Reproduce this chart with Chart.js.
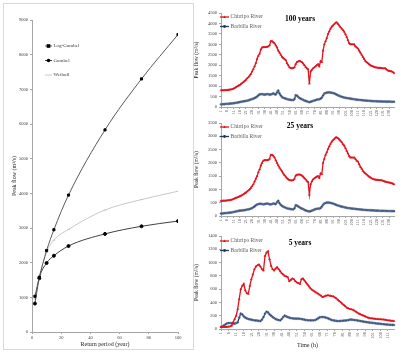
<!DOCTYPE html>
<html>
<head>
<meta charset="utf-8">
<script src="https://cdn.jsdelivr.net/npm/chart.js@4.4.0/dist/chart.umd.min.js"></script>
<style>
body { margin: 0; background: #fff; width: 401px; height: 352px; position: relative; overflow: hidden; }
.box { position: absolute; }
#frame { position: absolute; left: 3px; top: 3px; width: 189px; height: 345px; border: 1px solid #d9d9d9; }
</style>
</head>
<body>
<div id="frame"></div>
<div class="box" style="left:0;top:0"><canvas id="freq" width="196" height="352"></canvas></div>
<div class="box" style="left:190px;top:0"><canvas id="p100" width="211" height="118"></canvas></div>
<div class="box" style="left:190px;top:118px"><canvas id="p25" width="211" height="112"></canvas></div>
<div class="box" style="left:190px;top:230px"><canvas id="p5" width="211" height="122"></canvas></div>
<script>
// Courbes de fréquence (gauche)
const returnPeriod = [2, 5, 10, 15, 25, 50, 75, 100];
const logGumbel = [1030, 1580, 2350, 2950, 3950, 5830, 7300, 8580];
const gumbel = [820, 1550, 1990, 2200, 2480, 2830, 3050, 3200];
const weibull = [950, 1600, 2300, 2650, 2960, 3520, 3820, 4060];

// Hydrogrammes (droite), une valeur par heure
const chirripo100 = [800,800,800,805,810,815,820,830,840,850,
  880,910,950,985,1020,1050,1100,1150,1200,1250,
  1300,1370,1430,1500,1580,1700,1820,1950,2100,2300,
  2450,2550,2750,2850,2860,2870,2870,2880,2900,2950,
  3150,3150,3100,3050,2950,2850,2700,2600,2500,2400,
  2350,2300,2250,2100,2000,1900,1870,1850,1870,1900,
  2050,2150,2180,2200,2180,2150,2080,2000,1920,1850,
  1800,1120,1700,1780,1850,1900,1950,2000,2050,1950,
  2200,2150,2700,3000,3150,3300,3500,3620,3750,3850,
  3900,3970,4030,4050,3980,3900,3820,3750,3680,3600,
  3480,3350,3200,3050,3000,3000,3000,3000,2900,2850,
  2800,2700,2600,2500,2400,2300,2200,2150,2100,2050,
  2000,1970,1950,1920,1900,1890,1880,1875,1870,1860,
  1850,1850,1850,1800,1750,1730,1720,1700,1680,1620];
const barbilla100 = [130,130,135,140,145,150,155,160,165,170,
  180,190,200,210,220,235,250,260,270,280,
  290,300,320,340,360,380,400,430,460,500,
  560,600,610,620,600,590,600,620,610,590,
  600,620,650,610,600,700,780,650,550,480,
  440,420,400,380,360,350,340,330,330,380,
  560,540,480,430,400,370,340,310,290,270,
  250,230,250,270,290,310,330,350,360,370,
  400,450,550,640,670,690,700,700,690,680,
  670,650,620,590,560,530,510,490,470,450,
  440,430,420,410,400,390,380,370,360,350,
  345,340,335,330,320,315,310,305,300,295,
  290,285,280,278,275,272,270,268,266,264,
  262,260,258,256,255,254,253,252,251,250];
const chirripo25 = [570,570,575,575,580,585,590,600,610,620,
  640,660,680,700,720,740,760,790,820,850,
  880,920,960,1000,1060,1120,1200,1300,1400,1500,
  1650,1750,1900,2000,2080,2100,2100,2100,2110,2150,
  2300,2300,2270,2200,2100,2000,1900,1820,1750,1680,
  1600,1540,1480,1420,1380,1350,1340,1340,1350,1400,
  1520,1550,1560,1560,1550,1520,1480,1430,1380,1320,
  1280,800,1200,1300,1380,1420,1450,1480,1500,1430,
  1600,1580,2000,2150,2300,2400,2520,2620,2720,2800,
  2850,2900,2950,2960,2930,2880,2830,2780,2700,2650,
  2560,2450,2350,2250,2200,2200,2200,2200,2150,2080,
  2050,1950,1850,1780,1700,1640,1600,1560,1520,1480,
  1450,1420,1400,1380,1370,1360,1360,1350,1350,1340,
  1330,1310,1290,1280,1270,1260,1250,1240,1220,1190];
const barbilla25 = [90,95,100,105,110,115,120,125,130,140,
  150,160,170,180,190,200,205,210,215,220,
  230,240,250,260,280,300,330,360,400,430,
  450,460,460,450,440,450,460,470,460,440,
  440,450,470,460,450,520,570,480,420,380,
  350,330,310,290,280,270,260,250,250,290,
  400,390,360,330,300,280,260,230,210,190,
  180,170,180,200,220,240,260,270,275,280,
  300,350,420,470,490,500,500,500,490,480,
  470,450,430,410,395,380,365,350,340,330,
  320,310,300,295,290,280,275,270,265,260,
  255,250,245,240,235,230,225,222,220,218,
  215,212,210,208,205,202,200,198,196,195,
  194,192,190,189,188,187,186,185,184,182];
const chirripo5 = [30,30,30,30,32,35,40,50,100,150,
  200,300,450,600,650,680,580,540,530,650,
  750,820,900,940,960,970,940,900,880,1100,
  1150,1170,1050,950,900,880,910,930,900,870,
  840,820,800,790,780,720,740,760,750,720,
  700,690,680,750,760,730,700,670,640,610,
  590,575,560,545,530,515,500,480,490,500,
  505,505,500,495,490,475,460,440,420,400,
  380,360,340,320,310,300,295,290,275,260,
  245,230,220,210,200,190,180,170,165,160,
  158,155,152,150,148,146,144,142,140,135,
  130,128,125,122,120];
const barbilla5 = [30,40,55,70,85,90,90,85,80,80,
  90,100,170,230,220,190,170,160,150,145,
  140,135,130,128,125,122,120,140,180,230,
  260,250,220,200,180,165,150,140,135,130,
  150,180,200,190,180,170,165,160,158,156,
  155,155,154,150,145,140,135,132,130,130,
  130,130,135,145,160,175,180,180,178,172,
  165,155,145,135,130,125,122,120,120,122,
  124,126,128,130,135,140,140,138,135,132,
  128,124,120,115,110,106,103,100,97,94,
  91,88,85,82,80,78,75,72,70,68,
  66,64,62,61,60];

const hours100 = chirripo100.map((v, i) => String(i + 1));
const hours25 = chirripo25.map((v, i) => String(i + 1));
const hours5 = chirripo5.map((v, i) => String(i + 1));

const SERIF = "'Liberation Serif', 'Times New Roman', serif";
Chart.defaults.font.family = SERIF;
Chart.defaults.color = '#404040';

// Petit marqueur pour la légende maison
function drawMarker(ctx, style, x, y, r, fill) {
    ctx.fillStyle = fill;
    ctx.beginPath();
    if (style === 'triangle') {
        ctx.moveTo(x, y - r); ctx.lineTo(x + r, y + r * 0.8); ctx.lineTo(x - r, y + r * 0.8); ctx.closePath(); ctx.fill();
    } else if (style === 'rect') {
        ctx.fillRect(x - r, y - r, 2 * r, 2 * r);
    } else if (style === 'circle') {
        ctx.arc(x, y, r, 0, Math.PI * 2); ctx.fill();
    }
}

// Légende et titre placés dans la zone du graphique
const insideLegend = {
    id: 'insideLegend',
    afterDatasetsDraw(chart, args, opts) {
        const ctx = chart.ctx;
        ctx.save();
        chart.data.datasets.forEach((ds, i) => {
            const y = opts.y + i * opts.gap;
            ctx.strokeStyle = ds.borderColor;
            ctx.lineWidth = ds.borderWidth;
            ctx.beginPath();
            ctx.moveTo(opts.x, y);
            ctx.lineTo(opts.x + opts.len, y);
            ctx.stroke();
            drawMarker(ctx, ds.pointStyle, opts.x + opts.len / 2, y, ds.pointRadius + 0.3, ds.pointBackgroundColor);
            ctx.fillStyle = opts.color;
            ctx.font = opts.size + 'px ' + SERIF;
            ctx.textBaseline = 'middle';
            ctx.textAlign = 'left';
            ctx.fillText(ds.label, opts.x + opts.len + 1.5, y);
        });
        if (opts.title) {
            ctx.fillStyle = '#000';
            ctx.font = 'bold 7.5px ' + SERIF;
            ctx.textAlign = 'center';
            ctx.textBaseline = 'middle';
            ctx.fillText(opts.title, opts.titleX, opts.titleY);
        }
        ctx.restore();
    }
};

const axisGrid = { drawOnChartArea: false, tickLength: 2, color: '#a6a6a6' };
const plainNumber = v => String(v);

new Chart(document.getElementById('freq'), {
    type: 'line',
    data: {
        datasets: [
            { label: 'Log-Gumbel', data: returnPeriod.map((x, i) => ({ x: x, y: logGumbel[i] })),
              borderColor: '#595959', borderWidth: 1, pointStyle: 'rect', pointRadius: 1.5,
              pointBackgroundColor: '#000', pointBorderColor: '#000', cubicInterpolationMode: 'monotone' },
            { label: 'Gumbel', data: returnPeriod.map((x, i) => ({ x: x, y: gumbel[i] })),
              borderColor: '#404040', borderWidth: 1, pointStyle: 'circle', pointRadius: 1.5,
              pointBackgroundColor: '#000', pointBorderColor: '#000', cubicInterpolationMode: 'monotone' },
            { label: 'Weibull', data: returnPeriod.map((x, i) => ({ x: x, y: weibull[i] })),
              borderColor: '#c8c8c8', borderWidth: 1, pointStyle: 'line', pointRadius: 1.5,
              pointBackgroundColor: '#c8c8c8', pointBorderColor: '#c8c8c8', cubicInterpolationMode: 'monotone' }
        ]
    },
    options: {
        responsive: false,
        animation: false,
        layout: { padding: { top: 20, right: 18, left: 0, bottom: 0 } },
        plugins: {
            legend: { display: false },
            tooltip: { enabled: false },
            insideLegend: { x: 45, y: 46, gap: 14.5, len: 7, size: 5, color: '#404040' }
        },
        scales: {
            x: {
                type: 'linear', min: 0, max: 100,
                ticks: { stepSize: 20, font: { size: 4.5 }, padding: 1, maxRotation: 0, callback: plainNumber },
                grid: axisGrid,
                border: { color: '#a6a6a6' },
                title: { display: true, text: 'Return period (year)', font: { size: 6 }, color: '#262626', padding: { top: 0, bottom: 3.5 } },
                afterFit: s => { s.height = 20; }
            },
            y: {
                min: 0, max: 9000,
                ticks: { stepSize: 1000, font: { size: 4.5 }, padding: 2, callback: plainNumber },
                grid: axisGrid,
                border: { color: '#a6a6a6' },
                title: { display: true, text: 'Peak flow (m³/s)', font: { size: 6 }, color: '#262626', padding: { top: 11, bottom: 0 } },
                afterFit: s => { s.width = 32; }
            }
        }
    },
    plugins: [insideLegend]
});

// Un panneau d'hydrogramme
function makePanel(id, hours, chirripo, barbilla, yMax, yStep, cfg) {
    new Chart(document.getElementById(id), {
        type: 'line',
        data: {
            labels: hours,
            datasets: [
                { label: 'Chirripo River', data: chirripo, borderColor: '#e0141e', borderWidth: 1.3,
                  pointStyle: 'triangle', pointRadius: 1.1, pointBackgroundColor: '#e0141e',
                  pointBorderColor: '#e0141e', pointBorderWidth: 0.5, tension: 0 },
                { label: 'Barbilla River', data: barbilla, borderColor: '#1f3864', borderWidth: 1.3,
                  pointStyle: 'circle', pointRadius: 1.1, pointBackgroundColor: '#1f3864',
                  pointBorderColor: '#8496b0', pointBorderWidth: 0.5, tension: 0 }
            ]
        },
        options: {
            responsive: false,
            animation: false,
            layout: { padding: { top: cfg.padTop, right: 7, left: 0, bottom: 0 } },
            plugins: {
                legend: { display: false },
                tooltip: { enabled: false },
                insideLegend: { x: 30, y: cfg.legY, gap: 9.5, len: 9, size: 5.5, color: '#595959',
                                title: cfg.title, titleX: 110, titleY: cfg.titleY }
            },
            scales: {
                x: {
                    ticks: {
                        autoSkip: false, minRotation: 90, maxRotation: 90, font: { size: 4.5 }, padding: 1,
                        callback: function (value, index) { return index % 5 === 0 ? this.getLabelForValue(value) : ''; }
                    },
                    grid: { drawOnChartArea: false, tickLength: 2,
                            tickColor: c => (c.index % 5 === 0 ? '#a6a6a6' : 'rgba(0,0,0,0)') },
                    border: { color: '#a6a6a6' },
                    title: { display: cfg.timeTitle, text: 'Time (h)', font: { size: 6 }, color: '#262626', padding: { top: 0, bottom: 2.5 } },
                    afterFit: s => { s.height = cfg.xHeight; }
                },
                y: {
                    min: 0, max: yMax,
                    ticks: { stepSize: yStep, font: { size: 4.5 }, padding: 2, callback: plainNumber },
                    grid: axisGrid,
                    border: { color: '#a6a6a6' },
                    title: { display: true, text: 'Peak flow (m³/s)', font: { size: 5.5 }, color: '#262626', padding: { top: 3.5, bottom: 0 } },
                    afterFit: s => { s.width = 31; }
                }
            }
        },
        plugins: [insideLegend]
    });
}

makePanel('p100', hours100, chirripo100, barbilla100, 4500, 500,
    { padTop: 13, xHeight: 11, legY: 17, title: '100 years', titleY: 19, timeTitle: false });
makePanel('p25', hours25, chirripo25, barbilla25, 3500, 500,
    { padTop: 5, xHeight: 14, legY: 9, title: '25 years', titleY: 8, timeTitle: false });
makePanel('p5', hours5, chirripo5, barbilla5, 1400, 200,
    { padTop: 6, xHeight: 23, legY: 11, title: '5 years', titleY: 13, timeTitle: true });
</script>
</body>
</html>
